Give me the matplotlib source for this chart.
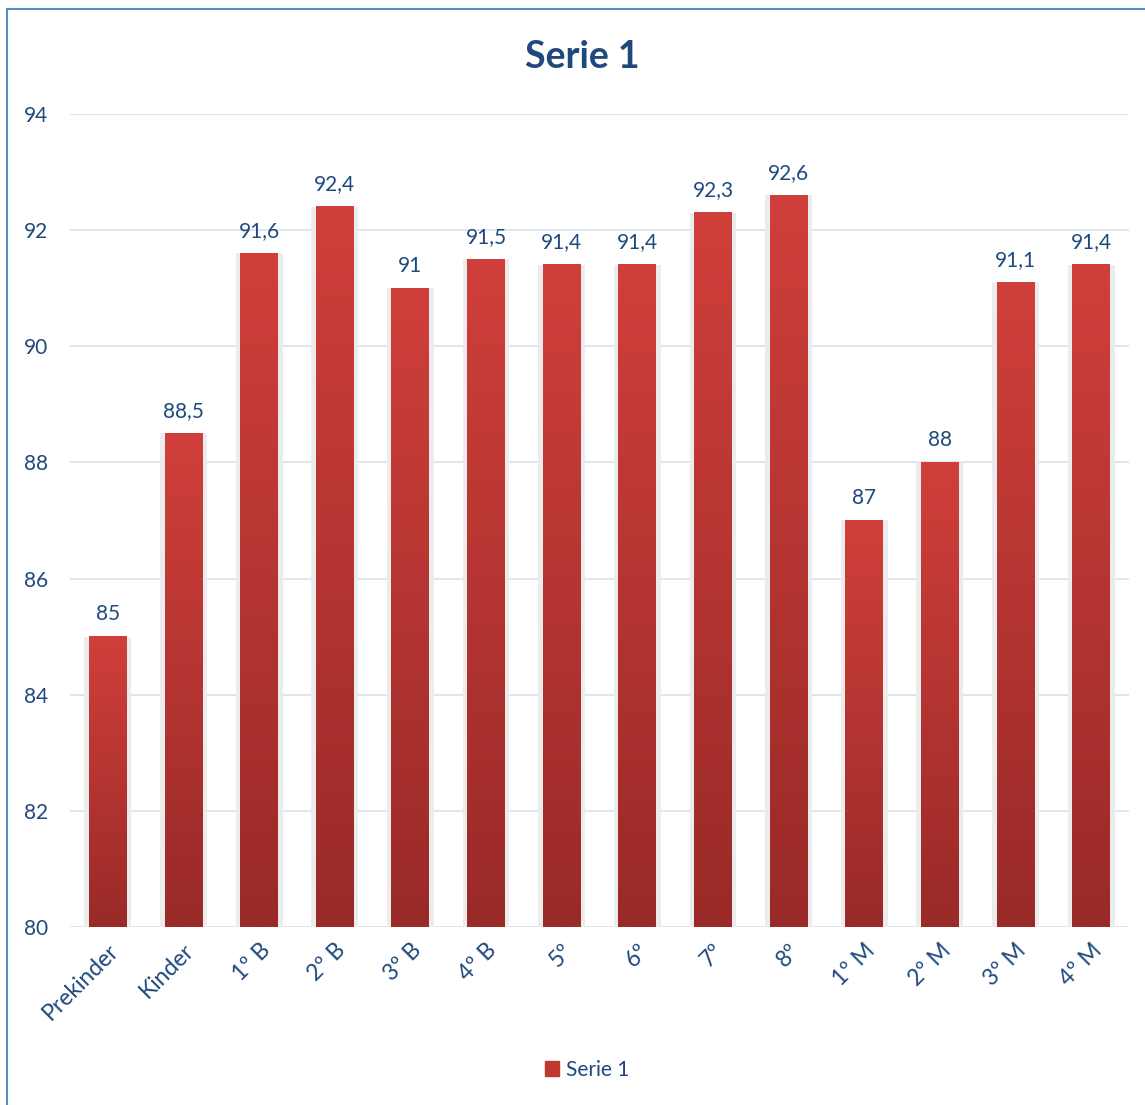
import matplotlib.pyplot as plt
import numpy as np
from matplotlib.colors import LinearSegmentedColormap

# values
categories = ['Prekinder', 'Kinder', '1º B', '2º B', '3º B', '4º B', '5º', '6º',
              '7º', '8º', '1º M', '2º M', '3º M', '4º M']
values = [85, 88.5, 91.6, 92.4, 91, 91.5, 91.4, 91.4, 92.3, 92.6, 87, 88, 91.1, 91.4]
y_ticks = [80, 82, 84, 86, 88, 90, 92, 94]
series_name = 'Serie 1'

text_color = '#1f497d'
grid_color = '#d6e0ee'
bar_top = '#d03f3b'
bar_bottom = '#992a28'

plt.rcParams['font.family'] = ['Lato', 'DejaVu Sans']

fig = plt.figure(figsize=(11.45, 11.05), dpi=100)
ax = fig.add_axes([70 / 1145, 1 - 927 / 1105, 1059 / 1145, 813 / 1105])

x = np.arange(len(categories))
width = 0.5
ymin = y_ticks[0]

cmap = LinearSegmentedColormap.from_list('bar', [bar_bottom, bar_top])
grad = np.linspace(0, 1, 256).reshape(-1, 1)

for xi, v in zip(x, values):
    # soft shadow behind each bar
    ax.bar(xi, v - ymin + 0.05, width=width + 0.12, bottom=ymin - 0.05,
           color='#ececec', zorder=2, linewidth=0)
    ax.imshow(grad, cmap=cmap, origin='lower', aspect='auto',
              extent=[xi - width / 2, xi + width / 2, ymin, v], zorder=3)
    label = f'{v:g}'.replace('.', ',')
    ax.annotate(label, (xi, v), xytext=(0, 9), textcoords='offset points',
                ha='center', va='bottom', color=text_color, fontsize=15)

ax.set_xlim(-0.5, len(categories) - 0.5)
ax.set_ylim(ymin, y_ticks[-1])
ax.set_yticks(y_ticks)
ax.set_xticks(x)
ax.set_xticklabels(categories, rotation=45, ha='right', rotation_mode='anchor',
                   color=text_color, fontsize=16.5)
ax.tick_params(axis='y', colors=text_color, labelsize=15, length=0, pad=16)
ax.tick_params(axis='x', length=0, pad=9)
ax.grid(axis='y', color=grid_color, linewidth=1.2, zorder=0)
ax.set_axisbelow(True)
for s in ax.spines.values():
    s.set_visible(False)

fig.text(582 / 1145, 1 - 57 / 1105, series_name, ha='center', va='center',
         color=text_color, fontsize=27, fontweight='bold')

# legend at bottom
handle = plt.Rectangle((0, 0), 1, 1, color='#c0392f')
fig.legend([handle], [series_name], loc='center', bbox_to_anchor=(587 / 1145, 1 - 1070 / 1105),
           frameon=False, fontsize=15, labelcolor=text_color, handlelength=0.7,
           handleheight=0.7, handletextpad=0.3)

# chart border on left and top
fig.add_artist(plt.Line2D([7 / 1145, 7 / 1145], [0, 1 - 9 / 1105], color='#5b8ac6', lw=1.5))
fig.add_artist(plt.Line2D([7 / 1145, 1], [1 - 9 / 1105, 1 - 9 / 1105], color='#5b8ac6', lw=1.5))

fig.savefig('out.png', dpi=100)
